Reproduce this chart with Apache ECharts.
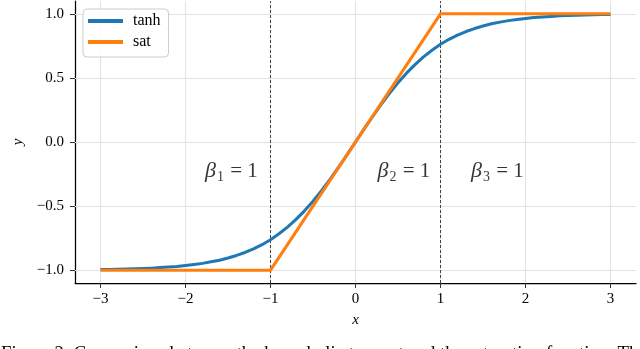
<!DOCTYPE html>
<html>
<head>
<meta charset="utf-8">
<script src="https://cdn.jsdelivr.net/npm/echarts@6/dist/echarts.min.js"></script>
<style>
html,body{margin:0;padding:0;background:#fff;}
#chart{width:640px;height:349px;}
</style>
</head>
<body>
<div id="chart"></div>
<script>
// ---- data ----
const xTicks = [-3, -2, -1, 0, 1, 2, 3];
const yTicks = [-1, -0.5, 0, 0.5, 1];
const tanhX = [
  -3.0, -2.9, -2.8, -2.7, -2.6, -2.5, -2.4, -2.3, -2.2, -2.1,
  -2.0, -1.9, -1.8, -1.7, -1.6, -1.5, -1.4, -1.3, -1.2, -1.1,
  -1.0, -0.9, -0.8, -0.7, -0.6, -0.5, -0.4, -0.3, -0.2, -0.1,
   0.0,  0.1,  0.2,  0.3,  0.4,  0.5,  0.6,  0.7,  0.8,  0.9,
   1.0,  1.1,  1.2,  1.3,  1.4,  1.5,  1.6,  1.7,  1.8,  1.9,
   2.0,  2.1,  2.2,  2.3,  2.4,  2.5,  2.6,  2.7,  2.8,  2.9, 3.0];
const tanhY = [
  -0.995, -0.994, -0.993, -0.991, -0.989, -0.987, -0.984, -0.980, -0.976, -0.971,
  -0.964, -0.956, -0.947, -0.935, -0.922, -0.905, -0.885, -0.862, -0.834, -0.801,
  -0.762, -0.716, -0.664, -0.604, -0.537, -0.462, -0.380, -0.291, -0.197, -0.100,
   0.000,  0.100,  0.197,  0.291,  0.380,  0.462,  0.537,  0.604,  0.664,  0.716,
   0.762,  0.801,  0.834,  0.862,  0.885,  0.905,  0.922,  0.935,  0.947,  0.956,
   0.964,  0.971,  0.976,  0.980,  0.984,  0.987,  0.989,  0.991,  0.993,  0.994, 0.995];
const satX = [-3, -1, 1, 3];
const satY = [-1, -1, 1, 1];
const breakX = [-1, 1];
const betaNames = ['1', '2', '3'];
const betaX = [-1.46, 0.57, 1.67];
const betaY = [-0.23, -0.23, -0.23];
const caption = 'Figure 2: Comparison between the hyperbolic tangent and the saturation function. Th';

const SERIF = '"Liberation Serif", "DejaVu Serif", serif';

function fmtNum(v, d) {
  const s = Math.abs(v).toFixed(d);
  return (v < 0 ? '\u2212' : '') + s;
}

// fit caption to width
const mc = document.createElement('canvas').getContext('2d');
mc.font = '15px ' + SERIF;
const capSize = 15 * 638 / mc.measureText(caption).width;

const chart = echarts.init(document.getElementById('chart'), null, {renderer: 'canvas'});

const option = {
  animation: false,
  backgroundColor: '#ffffff',
  grid: {left: 75, right: 4, top: 1, bottom: 66, containLabel: false},
  xAxis: {
    type: 'value', min: -3.3, max: 3.3,
    axisLine: {onZero: false, lineStyle: {color: '#000', width: 1.25}},
    axisTick: {show: true, length: 5, lineStyle: {color: '#333', width: 1}, customValues: xTicks},
    axisLabel: {customValues: xTicks, margin: 9, color: '#000', fontFamily: SERIF, fontSize: 15,
      formatter: v => fmtNum(v, 0)},
    splitLine: {show: false},
    name: 'x', nameLocation: 'middle', nameGap: 30,
    nameTextStyle: {fontFamily: SERIF, fontStyle: 'italic', fontSize: 15, color: '#000'}
  },
  yAxis: {
    type: 'value', min: -1.1, max: 1.1,
    axisLine: {show: true, onZero: false, lineStyle: {color: '#000', width: 1.25}},
    axisTick: {show: true, length: 5, lineStyle: {color: '#333', width: 1}, customValues: yTicks},
    axisLabel: {customValues: yTicks, margin: 11, color: '#000', fontFamily: SERIF, fontSize: 15,
      formatter: v => fmtNum(v, 1)},
    splitLine: {show: false},
    name: 'y', nameLocation: 'middle', nameGap: 48, nameRotate: 90,
    nameTextStyle: {fontFamily: SERIF, fontStyle: 'italic', fontSize: 15, color: '#000'}
  },
  legend: {
    left: 83, top: 9, orient: 'vertical',
    backgroundColor: 'rgba(255,255,255,0.85)',
    borderColor: '#cccccc', borderWidth: 1, borderRadius: 4,
    padding: [4, 8, 7, 5],
    itemWidth: 35, itemHeight: 4, itemGap: 5,
    textStyle: {fontFamily: SERIF, fontSize: 16, color: '#000', lineHeight: 16, padding: [0, 0, 0, 5]},
    data: [{name: 'tanh', icon: 'rect'}, {name: 'sat', icon: 'rect'}]
  },
  series: [
    {
      name: 'grid', type: 'line', data: [], silent: true, z: 1,
      markLine: {
        z: 1,
        silent: true, symbol: 'none', animation: false,
        label: {show: false},
        lineStyle: {color: '#e3e3e3', width: 1.1, type: 'solid'},
        data: xTicks.map(v => ({xAxis: v})).concat(yTicks.map(v => ({yAxis: v})))
      }
    },
    {
      name: 'breaks', type: 'line', data: [], silent: true, z: 2,
      markLine: {
        z: 2,
        silent: true, symbol: 'none', animation: false,
        label: {show: false},
        lineStyle: {color: '#444', width: 1, type: [3, 2]},
        data: breakX.map(v => ({xAxis: v}))
      }
    },
    {
      name: 'tanh', type: 'line', z: 10,
      data: tanhX.map((x, i) => [x, tanhY[i]]),
      showSymbol: false, smooth: false,
      lineStyle: {color: '#1f77b4', width: 3, join: 'round'},
      itemStyle: {color: '#1f77b4'}
    },
    {
      name: 'sat', type: 'line', z: 11,
      data: satX.map((x, i) => [x, satY[i]]),
      showSymbol: false,
      lineStyle: {color: '#ff7f0e', width: 3, join: 'miter'},
      itemStyle: {color: '#ff7f0e'}
    },
    {
      name: 'beta', type: 'scatter', z: 12, symbolSize: 0, silent: true,
      data: betaX.map((x, i) => ({value: [x, betaY[i]], name: betaNames[i]})),
      label: {
        show: true, position: 'inside',
        formatter: p => '{b|\u03B2}{s|' + p.name + '}{n| = 1}',
        rich: {
          b: {fontFamily: SERIF, fontStyle: 'italic', fontSize: 22, color: '#000', lineHeight: 26},
          s: {fontFamily: SERIF, fontSize: 14, color: '#000', lineHeight: 14, padding: [12, 1, 0, 1]},
          n: {fontFamily: SERIF, fontSize: 21, color: '#000', lineHeight: 26}
        }
      }
    }
  ],
  graphic: [{
    type: 'text', left: 1, top: 345, silent: true,
    style: {text: caption, font: capSize.toFixed(2) + 'px ' + SERIF, fill: '#000'}
  }]
};
chart.setOption(option);
</script>
</body>
</html>
